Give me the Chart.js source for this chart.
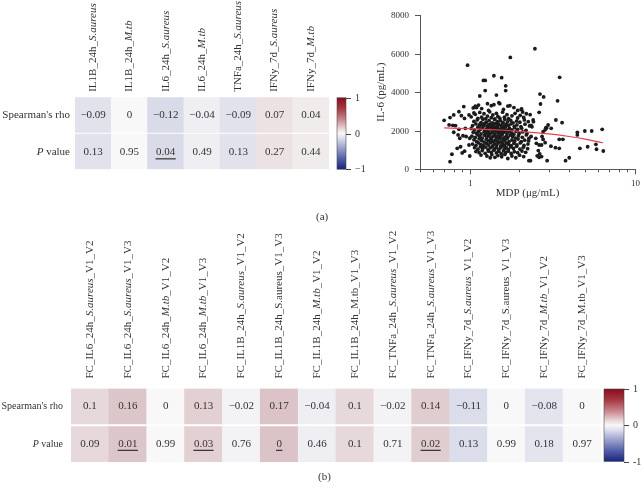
<!DOCTYPE html>
<html><head><meta charset="utf-8">
<script src="https://cdn.jsdelivr.net/npm/chart.js@4.4.1/dist/chart.umd.min.js"></script>
<style>
html,body{margin:0;padding:0;background:#fff;width:644px;height:488px;overflow:hidden;}
canvas{position:absolute;}
.lbl{position:absolute;font:11px "Liberation Serif",serif;color:#333;line-height:1;}
</style></head><body>
<canvas id="heatA" width="336" height="180" style="left:0;top:0"></canvas>
<canvas id="cbarA" width="45" height="100" style="left:330px;top:80px"></canvas>
<canvas id="scatter" width="284" height="205" style="left:360px;top:0"></canvas>
<canvas id="heatB" width="604" height="250" style="left:0;top:220px"></canvas>
<canvas id="cbarB" width="48" height="90" style="left:596px;top:380px"></canvas>
<div class="lbl" style="left:316px;top:211px">(a)</div>
<div class="lbl" style="left:318px;top:471px">(b)</div>
<script>
// ---------------- DATA ----------------
const heatACols = ["IL1B_24h_*S.aureus*","IL1B_24h_*M.tb*","IL6_24h_*S.aureus*","IL6_24h_*M.tb*","TNFa_24h_*S.aureus*","IFNy_7d_*S.aureus*","IFNy_7d_*M.tb*"];
const heatARho = [-0.09, 0, -0.12, -0.04, -0.09, 0.07, 0.04];
const heatAP   = [0.13, 0.95, 0.04, 0.49, 0.13, 0.27, 0.44];

const heatBCols = ["FC_IL6_24h_*S.aureus*_V1_V2","FC_IL6_24h_*S.aureus*_V1_V3","FC_IL6_24h_*M.tb*_V1_V2","FC_IL6_24h_*M.tb*_V1_V3",
  "FC_IL1B_24h_*S.aureus*_V1_V2","FC_IL1B_24h_S.aureus_V1_V3","FC_IL1B_24h_*M.tb*_V1_V2","FC_IL1B_24h_M.tb_V1_V3",
  "FC_TNFa_24h_*S.aureus*_V1_V2","FC_TNFa_24h_*S.aureus*_V1_V3","FC_IFNy_7d_*S.aureus*_V1_V2","FC_IFNy_7d_S.aureus_V1_V3",
  "FC_IFNy_7d_*M.tb*_V1_V2","FC_IFNy_7d_M.tb_V1_V3"];
const heatBRho = [0.1, 0.16, 0, 0.13, -0.02, 0.17, -0.04, 0.1, -0.02, 0.14, -0.11, 0, -0.08, 0];
const heatBP   = [0.09, 0.01, 0.99, 0.03, 0.76, 0, 0.46, 0.1, 0.71, 0.02, 0.13, 0.99, 0.18, 0.97];

const rowLabels = ["Spearman's rho", "*P* value"];
const cbarValues = [1, 0, -1];
const cbarLabelsA = ["1", "0", "\u22121"];
const cbarLabelsB = ["1", "0", "-1"];

const yTicks = [0, 2000, 4000, 6000, 8000];
const xMajorTicks = [1, 10];
const xMinorTicks = [0.5, 0.6, 0.7, 0.8, 0.9, 2, 3, 4, 5, 6, 7, 8, 9];
const xTitle = "MDP (\u03bcg/mL)";
const yTitle = "IL-6 (pg/mL)";

const fitX = [0.7, 1, 1.5, 2, 3, 4, 5, 6.4];
const fitY = [2145, 2105, 2037, 1970, 1835, 1700, 1565, 1375];

const mdpIl6 = [
 // upper outliers
 [2.48,6250],[1.76,5800],[0.97,5400],[3.5,4770],[1.40,4850],[1.56,4750],[1.21,4610],[1.24,4610],[1.65,4330],[1.65,4080],[1.24,4080],
 [1.15,3800],[1.45,3850],[2.66,3900],[2.8,3750],[3.4,3550],[2.68,3386],
 // 3000-3500
 [1.08,3270],[1.1,3200],[1.13,3330],[1.3,3050],[1.35,3300],[1.5,3450],[1.52,3400],[1.6,3100],[1.7,3280],[1.75,3300],[1.85,3200],
 [1.95,3050],[2.05,3100],[1.28,3400],[1.4,3350],[1.18,3150],[2.06,3130],[2.09,2970],[2.32,2830],[2.63,2955],
 // 2600-3000
 [1.02,2720],[1.08,2850],[1.12,2640],[1.15,2950],[1.18,2700],[1.22,2880],[1.25,2620],[1.28,2760],[1.32,2980],[1.35,2680],[1.38,2820],
 [1.42,2610],[1.45,2900],[1.48,2740],[1.52,2650],[1.58,2960],[1.62,2700],[1.68,2830],[1.72,2620],[1.8,2770],[1.88,2900],[1.95,2660],
 [2.02,2800],[2.12,2690],[2.2,2880],
 // 2400-2600
 [1.06,2480],[1.11,2560],[1.17,2420],[1.2,2590],[1.26,2450],[1.31,2530],[1.37,2410],[1.41,2580],[1.47,2470],[1.53,2520],[1.59,2430],
 [1.63,2590],[1.69,2460],[1.77,2540],[1.83,2410],[1.92,2500],[2.01,2440],[2.14,2560],[2.26,2470],[1.15,2330],[1.34,2360],
 // 2200-2400
 [1.04,2260],[1.09,2350],[1.14,2210],[1.18,2300],[1.23,2380],[1.27,2240],[1.3,2320],[1.35,2200],[1.39,2290],[1.43,2370],[1.46,2230],
 [1.5,2310],[1.55,2250],[1.58,2390],[1.62,2220],[1.66,2330],[1.72,2270],[1.78,2360],[1.86,2230],[1.93,2300],[2.04,2210],[2.16,2340],
 [2.3,2250],[1.21,2270],[1.48,2380],
 // 2000-2200
 [1.02,2120],[1.07,2040],[1.12,2180],[1.16,2070],[1.2,2150],[1.24,2010],[1.28,2110],[1.32,2190],[1.36,2050],[1.4,2140],[1.44,2020],
 [1.47,2170],[1.51,2080],[1.54,2000],[1.57,2150],[1.61,2060],[1.65,2190],[1.69,2030],[1.74,2120],[1.8,2040],[1.87,2160],[1.95,2070],
 [2.06,2130],[2.19,2020],[1.26,2080],[1.43,2100],
 // 1800-2000
 [1.05,1920],[1.1,1860],[1.13,1970],[1.17,1830],[1.22,1940],[1.25,1880],[1.29,1990],[1.33,1850],[1.37,1930],[1.41,1810],[1.45,1960],
 [1.49,1870],[1.52,1940],[1.56,1820],[1.6,1910],[1.64,1980],[1.68,1840],[1.73,1950],[1.79,1880],[1.85,1820],[1.91,1970],[1.99,1860],
 [2.09,1940],[2.22,1850],[1.31,1900],[1.54,1990],[1.39,1980],
 // 1600-1800
 [1.03,1720],[1.08,1650],[1.12,1780],[1.15,1690],[1.19,1620],[1.23,1760],[1.27,1670],[1.31,1740],[1.34,1610],[1.38,1700],[1.42,1780],
 [1.46,1640],[1.5,1720],[1.53,1660],[1.57,1790],[1.61,1630],[1.66,1710],[1.7,1650],[1.76,1770],[1.82,1690],[1.89,1620],[1.97,1740],
 [2.08,1660],[2.2,1780],[2.35,1700],[1.44,1700],[1.29,1800],
 // 1400-1600
 [1.06,1530],[1.1,1440],[1.14,1580],[1.18,1490],[1.22,1410],[1.26,1560],[1.3,1470],[1.35,1590],[1.39,1430],[1.43,1520],[1.47,1450],
 [1.51,1580],[1.55,1420],[1.59,1540],[1.63,1470],[1.68,1590],[1.73,1430],[1.8,1520],[1.87,1460],[1.96,1570],[2.05,1430],[2.15,1510],
 [2.27,1470],[1.36,1500],
 // 1200-1400
 [1.04,1310],[1.09,1240],[1.13,1370],[1.17,1280],[1.21,1220],[1.26,1350],[1.3,1260],[1.34,1390],[1.38,1230],[1.42,1320],[1.46,1270],
 [1.5,1380],[1.54,1210],[1.58,1330],[1.62,1250],[1.67,1360],[1.72,1290],[1.78,1220],[1.85,1340],[1.93,1260],[2.02,1370],[2.13,1240],
 [2.25,1310],
 // 1000-1200
 [1.07,1120],[1.12,1040],[1.16,1170],[1.2,1080],[1.25,1150],[1.29,1020],[1.33,1110],[1.37,1180],[1.41,1050],[1.45,1140],[1.49,1010],
 [1.53,1100],[1.57,1190],[1.62,1060],[1.66,1130],[1.71,1030],[1.77,1160],[1.84,1080],[1.92,1190],[2.01,1050],[2.11,1140],[2.24,1070],
 // 800-1000
 [1.09,920],[1.14,860],[1.19,970],[1.24,830],[1.3,940],[1.35,880],[1.4,990],[1.45,850],[1.5,930],[1.55,810],[1.6,960],[1.65,870],
 [1.71,940],[1.78,820],[1.86,910],[1.95,860],[2.07,950],[2.18,880],
 // 500-800
 [1.17,740],[1.27,690],[1.36,760],[1.42,620],[1.48,710],[1.56,650],[1.63,770],[1.7,560],[1.8,690],[1.9,600],[2.0,730],[2.12,660],[1.33,600],
 // left side
 [0.70,2540],[0.75,2300],[0.79,2280],[0.82,2260],[0.86,2990],[0.92,3250],[0.80,2820],[0.76,2680],[0.89,2780],[0.93,2640],[0.99,2820],
 [1.05,3180],[1.06,2920],[0.85,1780],[0.91,1740],[0.87,1610],[0.94,2125],[0.80,1920],[0.95,1700],[1.0,1610],[0.99,1260],[0.84,1090],
 [0.88,1170],[0.90,850],[0.93,940],[1.0,690],[0.78,780],[0.76,394],[0.86,2070],
 // right side
 [2.42,2556],[2.43,2470],[3.32,2556],[3.62,2416],[2.35,2280],[2.38,2200],[2.98,2297],[2.89,2157],[2.86,2050],[2.92,2140],[2.78,1950],
 [3.11,2125],[4.48,1918],[4.48,1780],[4.97,1986],[5.47,1986],[6.33,2074],[3.48,1555],[3.66,1555],[2.51,1607],[2.28,1600],[2.74,1700],
 [2.78,1550],[2.86,1380],[2.53,1348],[2.63,1260],[2.72,1260],[3.1,1200],[3.3,1120],[3.48,1090],[4.64,1090],[5.17,1170],[5.8,1296],
 [5.85,1040],[6.43,950],[2.6,970],[2.65,800],[2.72,660],[2.56,700],[2.63,620],[2.94,446],[4.0,600],[3.8,446],[2.28,446],[2.33,446]
];

// ---------------- HELPERS ----------------
const FAM = '"Liberation Serif", "Times New Roman", serif';
const TXT = '#333';

function cellColor(v){
  const sp = [[0,[248,248,248]],[0.2,[214,186,190]],[1,[140,15,30]]];
  const sn = [[0,[248,248,248]],[0.2,[196,199,222]],[1,[22,32,130]]];
  const s = v >= 0 ? sp : sn, a = Math.min(1, Math.abs(v));
  for (let i = 1; i < s.length; i++) {
    if (a <= s[i][0]) {
      const t = (a - s[i-1][0]) / (s[i][0] - s[i-1][0]);
      const c = s[i-1][1].map((c0,k)=>Math.round(c0 + (s[i][1][k]-c0)*t));
      return 'rgb(' + c.join(',') + ')';
    }
  }
  return 'rgb(' + s[s.length-1][1].join(',') + ')';
}
function fmt(v){ return v < 0 ? '\u2212' + String(-v) : String(v); }
function parseSegs(s){ return s.split('*').map((t,i)=>({t, it: i%2===1})).filter(g=>g.t.length); }
function drawSegs(ctx, segs, x, y, size, align){
  const w = segs.map(g=>{ ctx.font = (g.it?'italic ':'') + size + 'px ' + FAM; return ctx.measureText(g.t).width; });
  const total = w.reduce((a,b)=>a+b,0);
  let cx = align === 'right' ? x - total : x;
  ctx.textAlign = 'left';
  segs.forEach((g,i)=>{ ctx.font = (g.it?'italic ':'') + size + 'px ' + FAM; ctx.fillText(g.t, cx, y); cx += w[i]; });
}

function heatChart(id, o){
  const labels = o.rho.map((_,i)=>i);
  const colors = o.rho.map(cellColor);
  const g = o.gap;
  const common = {backgroundColor: colors, grouped:false, barPercentage:1, categoryPercentage:1, borderWidth:0};
  return new Chart(document.getElementById(id), {
    type: 'bar',
    data: {labels, datasets: [
      Object.assign({data: labels.map(()=>[1+g, 2])}, common),
      Object.assign({data: labels.map(()=>[0, 1-g])}, common)
    ]},
    options: {
      responsive:false, animation:false, events:[],
      layout:{padding:o.pad},
      plugins:{legend:{display:false}, tooltip:{enabled:false}},
      scales:{x:{display:false}, y:{display:false, min:0, max:2}}
    },
    plugins: [{id:'heatText', afterDatasetsDraw(chart){
      const {ctx, chartArea:ca, scales:{x, y}} = chart;
      ctx.save();
      ctx.fillStyle = TXT;
      ctx.textBaseline = 'middle';
      const ry = y.getPixelForValue(1.5 + g/2), py = y.getPixelForValue(0.5 - g/2);
      o.rho.forEach((v,i)=>{
        const px = x.getPixelForValue(i);
        ctx.font = o.valSize + 'px ' + FAM; ctx.textAlign = 'center';
        ctx.fillText(fmt(v), px, ry);
        const ps = fmt(o.p[i]);
        ctx.fillText(ps, px, py);
        if (o.p[i] < 0.05) {
          const w = ctx.measureText(ps).width + 1;
          ctx.fillRect(px - w/2, py + o.ulOff, w, 1.2);
        }
      });
      o.cols.forEach((lab,i)=>{
        const px = x.getPixelForValue(i);
        ctx.save();
        ctx.translate(px, ca.top - o.colGap);
        ctx.rotate(-Math.PI/2);
        ctx.textBaseline = 'middle';
        drawSegs(ctx, parseSegs(lab), 0, 0, o.colSize, 'left');
        ctx.restore();
      });
      ctx.textBaseline = 'middle';
      drawSegs(ctx, parseSegs(rowLabels[0]), ca.left - o.rowGap, ry, o.rowSize, 'right');
      drawSegs(ctx, parseSegs(rowLabels[1]), ca.left - o.rowGap, py, o.rowSize, 'right');
      ctx.restore();
    }}]
  });
}

function cbarChart(id, pad, tickLabels, size){
  return new Chart(document.getElementById(id), {
    type:'bar',
    data:{labels:[0], datasets:[{data:[[-1,1]], barPercentage:1, categoryPercentage:1, borderWidth:0,
      backgroundColor:(c)=>{
        const ca = c.chart.chartArea; if (!ca) return '#fff';
        const gr = c.chart.ctx.createLinearGradient(0, ca.top, 0, ca.bottom);
        gr.addColorStop(0, '#8a0c1c'); gr.addColorStop(0.14, '#a5333e'); gr.addColorStop(0.3, '#c7838b');
        gr.addColorStop(0.44, '#ead9db'); gr.addColorStop(0.5, '#f7f7f7'); gr.addColorStop(0.56, '#dfe1ee');
        gr.addColorStop(0.7, '#9da2cd'); gr.addColorStop(0.86, '#4f5aa6'); gr.addColorStop(1, '#18237f');
        return gr;
      }}]},
    options:{responsive:false, animation:false, events:[], layout:{padding:pad},
      plugins:{legend:{display:false}, tooltip:{enabled:false}},
      scales:{x:{display:false}, y:{display:false, min:-1, max:1}}},
    plugins:[{id:'cbTicks', afterDatasetsDraw(chart){
      const {ctx, chartArea:ca, scales:{y}} = chart;
      ctx.save();
      ctx.strokeStyle = 'rgba(70,70,70,0.7)'; ctx.lineWidth = 0.8;
      ctx.strokeRect(ca.left, ca.top, ca.right - ca.left, ca.bottom - ca.top);
      ctx.strokeStyle = '#444'; ctx.lineWidth = 1; ctx.fillStyle = TXT;
      ctx.font = size + 'px ' + FAM; ctx.textAlign = 'left'; ctx.textBaseline = 'middle';
      cbarValues.forEach((v,i)=>{
        const py = Math.round(y.getPixelForValue(v)) + 0.5;
        ctx.beginPath(); ctx.moveTo(ca.right, py); ctx.lineTo(ca.right + 5, py); ctx.stroke();
        ctx.fillText(tickLabels[i], ca.right + 9, py);
      });
      ctx.restore();
    }}]
  });
}

// ---------------- CHARTS ----------------
heatChart('heatA', {cols:heatACols, rho:heatARho, p:heatAP, gap:0.024,
  pad:{left:75, right:7, top:97.3, bottom:10.7}, valSize:11, colSize:11, rowSize:11, colGap:5.5, rowGap:5, ulOff:6.5});
heatChart('heatB', {cols:heatBCols, rho:heatBRho, p:heatBP, gap:0.034,
  pad:{left:71, right:3, top:168.5, bottom:8}, valSize:11, colSize:11, rowSize:10, colGap:10, rowGap:8, ulOff:5.5});
cbarChart('cbarA', {left:7, right:29, top:17.7, bottom:10.7}, cbarLabelsA, 10);
cbarChart('cbarB', {left:8, right:20, top:9, bottom:8.5}, cbarLabelsB, 10);

new Chart(document.getElementById('scatter'), {
  type:'scatter',
  data:{datasets:[
    {type:'line', data: fitX.map((x,i)=>({x, y:fitY[i]})), borderColor:'#e6404f', borderWidth:1.2, pointRadius:0,
     tension:0.3, fill:false, order:0},
    {data: mdpIl6.map(([x,y])=>({x, y})), pointRadius:1.9, pointBackgroundColor:'#1b1b1b', pointBorderWidth:0, order:1}
  ]},
  options:{
    responsive:false, animation:false, events:[],
    layout:{padding:{left:60, right:9, top:15, bottom:35.7}},
    plugins:{legend:{display:false}, tooltip:{enabled:false}},
    scales:{
      x:{type:'logarithmic', min:0.5, max:10, ticks:{display:false}, grid:{display:false},
         border:{display:true, color:'#555', width:1}, afterFit(s){ s.height = 0; }},
      y:{type:'linear', min:0, max:8000, ticks:{display:false}, grid:{display:false},
         border:{display:true, color:'#555', width:1}, afterFit(s){ s.width = 0; }}
    }
  },
  plugins:[{id:'axes', afterDraw(chart){
    const {ctx, chartArea:ca, scales:{x, y}} = chart;
    ctx.save();
    ctx.strokeStyle = '#555'; ctx.lineWidth = 1; ctx.fillStyle = TXT;
    ctx.font = '9px ' + FAM; ctx.textAlign = 'right'; ctx.textBaseline = 'middle';
    yTicks.forEach(v=>{
      const py = Math.round(y.getPixelForValue(v)) + 0.5;
      ctx.beginPath(); ctx.moveTo(ca.left - 5, py); ctx.lineTo(ca.left, py); ctx.stroke();
      ctx.fillText(String(v), ca.left - 11, py);
    });
    xMinorTicks.forEach(v=>{
      const px = Math.round(x.getPixelForValue(v)) + 0.5;
      ctx.beginPath(); ctx.moveTo(px, ca.bottom); ctx.lineTo(px, ca.bottom + 3); ctx.stroke();
    });
    ctx.textAlign = 'center';
    xMajorTicks.forEach(v=>{
      const px = Math.round(x.getPixelForValue(v)) + 0.5;
      ctx.beginPath(); ctx.moveTo(px, ca.bottom); ctx.lineTo(px, ca.bottom + 5); ctx.stroke();
      ctx.fillText(String(v), px, ca.bottom + 14);
    });
    ctx.font = '11px ' + FAM;
    ctx.fillText(xTitle, (ca.left + ca.right)/2, ca.bottom + 24);
    ctx.save();
    ctx.translate(21, (ca.top + ca.bottom)/2);
    ctx.rotate(-Math.PI/2);
    ctx.fillText(yTitle, 0, 0);
    ctx.restore();
    ctx.restore();
  }}]
});
</script>
</body></html>
